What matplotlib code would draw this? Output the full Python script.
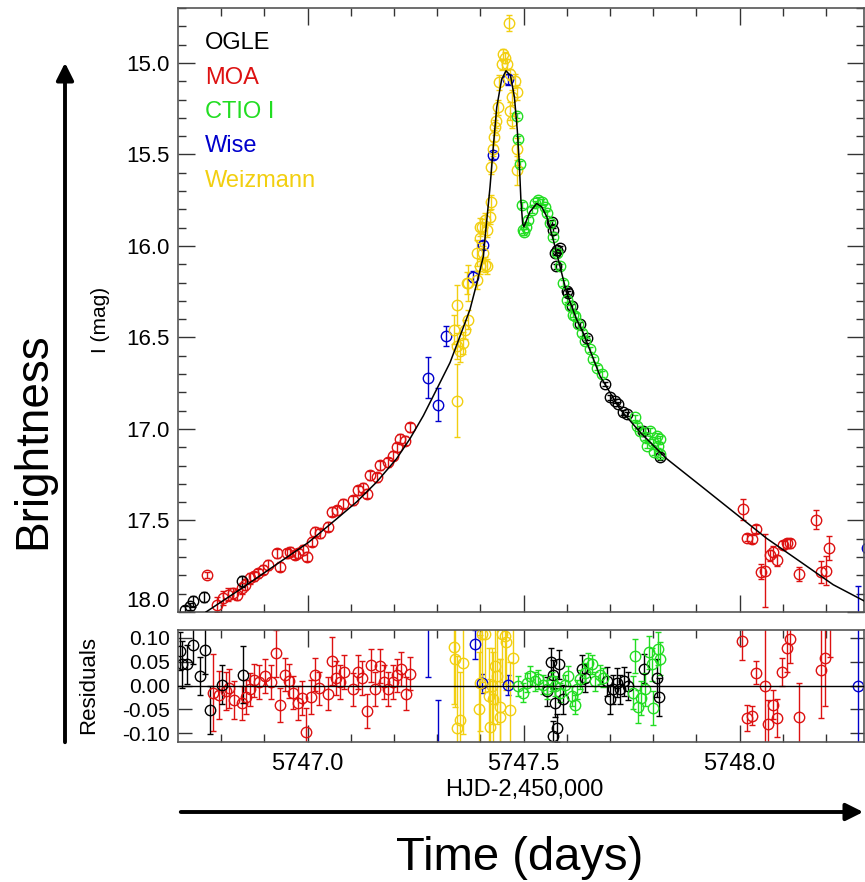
import matplotlib
matplotlib.use("Agg")
import matplotlib.pyplot as plt
from matplotlib.ticker import MultipleLocator, FormatStrFormatter

plt.rcParams['font.family'] = ['Liberation Sans', 'DejaVu Sans']
plt.rcParams['axes.unicode_minus'] = False

# ---- light curve data (HJD-2450000, I mag, error) ----
ogle_t = [5746.716, 5746.728, 5746.736, 5746.761, 5746.848, 5747.565, 5747.569, 5747.573,
          5747.575, 5747.578, 5747.584, 5747.600, 5747.604, 5747.612, 5747.631, 5747.648,
          5747.689, 5747.700, 5747.712, 5747.7195, 5747.731, 5747.739, 5747.777, 5747.816]
ogle_m = [17.987, 17.969, 17.942, 17.918, 17.833, 15.868, 15.913, 16.040,
          16.112, 16.022, 16.012, 16.248, 16.257, 16.330, 16.429, 16.502,
          16.755, 16.828, 16.846, 16.864, 16.909, 16.918, 17.009, 17.154]
ogle_e = [0.02, 0.02, 0.03, 0.025, 0.03, 0.012, 0.012, 0.012,
          0.012, 0.012, 0.012, 0.012, 0.012, 0.012, 0.012, 0.012,
          0.012, 0.012, 0.012, 0.012, 0.012, 0.012, 0.012, 0.015]

moa_t = [5746.767, 5746.790, 5746.805, 5746.817, 5746.828, 5746.836, 5746.848, 5746.855,
         5746.867, 5746.875, 5746.886, 5746.898, 5746.909, 5746.929, 5746.936, 5746.952,
         5746.959, 5746.971, 5746.979, 5746.990, 5746.998, 5747.010, 5747.017, 5747.029,
         5747.048, 5747.056, 5747.068, 5747.083, 5747.106, 5747.118, 5747.128, 5747.137,
         5747.145, 5747.160, 5747.168, 5747.187, 5747.199, 5747.206, 5747.214, 5747.226,
         5747.237,
         5748.009, 5748.017, 5748.028, 5748.038, 5748.050, 5748.059, 5748.071, 5748.078,
         5748.0875, 5748.101, 5748.109, 5748.118, 5748.138, 5748.177, 5748.188, 5748.1995,
         5748.208]
moa_m = [17.797, 17.960, 17.924, 17.906, 17.897, 17.906, 17.870, 17.851,
         17.815, 17.806, 17.788, 17.770, 17.743, 17.679, 17.752, 17.679,
         17.670, 17.688, 17.679, 17.661, 17.697, 17.616, 17.561, 17.571,
         17.534, 17.453, 17.444, 17.408, 17.390, 17.335, 17.322, 17.353,
         17.254, 17.263, 17.199, 17.181, 17.145, 17.100, 17.054, 17.063,
         16.991,
         17.439, 17.594, 17.602, 17.547, 17.779, 17.775, 17.689, 17.670,
         17.716, 17.634, 17.625, 17.625, 17.793, 17.495, 17.783, 17.775,
         17.652]
moa_e = [0.018, 0.04, 0.04, 0.035, 0.03, 0.03, 0.03, 0.03,
         0.03, 0.025, 0.025, 0.025, 0.025, 0.025, 0.025, 0.025,
         0.025, 0.025, 0.025, 0.025, 0.025, 0.025, 0.025, 0.025,
         0.025, 0.025, 0.025, 0.025, 0.025, 0.025, 0.025, 0.025,
         0.025, 0.025, 0.025, 0.025, 0.025, 0.025, 0.025, 0.025,
         0.025,
         0.056, 0.02, 0.02, 0.02, 0.04, 0.2, 0.03, 0.03,
         0.03, 0.02, 0.025, 0.025, 0.04, 0.05, 0.06, 0.08,
         0.065]

ctio_t = [5747.484, 5747.488, 5747.492, 5747.496, 5747.4995, 5747.502, 5747.506, 5747.511,
          5747.519, 5747.527, 5747.534, 5747.542, 5747.550, 5747.555, 5747.561, 5747.569,
          5747.577, 5747.584, 5747.592, 5747.600, 5747.608, 5747.615, 5747.619, 5747.627,
          5747.635, 5747.642, 5747.654, 5747.6615, 5747.669, 5747.681, 5747.758, 5747.762,
          5747.770, 5747.781, 5747.785, 5747.793, 5747.800, 5747.802, 5747.808, 5747.812,
          5747.816, 5747.817]
ctio_m = [15.288, 15.415, 15.551, 15.777, 15.913, 15.925, 15.895, 15.859,
          15.804, 15.768, 15.750, 15.759, 15.786, 15.822, 15.877, 15.949,
          16.040, 16.112, 16.203, 16.293, 16.330, 16.375, 16.384, 16.429,
          16.475, 16.520, 16.565, 16.620, 16.665, 16.700, 16.937, 16.982,
          17.009, 17.045, 17.091, 17.009, 17.072, 17.127, 17.036, 17.091,
          17.054, 17.136]
ctio_e = [0.015] * len(ctio_t)

wise_t = [5747.280, 5747.301, 5747.321, 5747.384, 5747.4055, 5747.429, 5747.465,
          5748.274, 5748.294]
wise_m = [16.719, 16.868, 16.493, 16.167, 15.995, 15.505, 15.089,
          18.06, 17.652]
wise_e = [0.113, 0.09, 0.055, 0.03, 0.02, 0.02, 0.03,
          0.2, 0.05]

weiz_t = [5747.338, 5747.345, 5747.345, 5747.347, 5747.353, 5747.361, 5747.365, 5747.369,
          5747.372, 5747.372, 5747.392, 5747.392, 5747.399, 5747.399, 5747.399, 5747.403,
          5747.407, 5747.411, 5747.411, 5747.415, 5747.415, 5747.422, 5747.425, 5747.425,
          5747.429, 5747.432, 5747.434, 5747.436, 5747.442, 5747.444, 5747.4495, 5747.453,
          5747.457, 5747.461, 5747.467, 5747.469, 5747.469, 5747.473, 5747.473, 5747.480,
          5747.484, 5747.484, 5747.484]
weiz_m = [16.457, 16.321, 16.548, 16.846, 16.574, 16.529, 16.457, 16.203,
          16.402, 16.203, 16.040, 16.185, 15.895, 15.958, 16.112, 15.895,
          16.040, 15.859, 16.103, 15.913, 16.112, 15.841, 15.759, 15.569,
          15.469, 15.406, 15.352, 15.315, 15.243, 15.107, 15.007, 14.953,
          14.971, 15.007, 14.781, 15.062, 15.261, 15.188, 15.315, 15.098,
          15.161, 15.469, 15.587]
weiz_e = [0.08, 0.11, 0.07, 0.2, 0.06, 0.06, 0.05, 0.06,
          0.05, 0.1, 0.07, 0.05, 0.05, 0.04, 0.04, 0.04,
          0.04, 0.04, 0.04, 0.04, 0.04, 0.04, 0.04, 0.04,
          0.04, 0.04, 0.04, 0.04, 0.04, 0.04, 0.03, 0.03,
          0.03, 0.03, 0.045, 0.03, 0.05, 0.04, 0.04, 0.04,
          0.04, 0.06, 0.08]

# fitted model
model_t = [5746.765, 5746.848, 5746.925, 5747.002, 5747.068, 5747.114, 5747.160, 5747.206,
           5747.237, 5747.268, 5747.299, 5747.330, 5747.353, 5747.376, 5747.392, 5747.407,
           5747.411, 5747.4225, 5747.430, 5747.438, 5747.4495, 5747.4595, 5747.470, 5747.479,
           5747.4857, 5747.4903, 5747.494, 5747.498, 5747.501, 5747.515, 5747.5305, 5747.542,
           5747.554, 5747.569, 5747.5845, 5747.600, 5747.623, 5747.638, 5747.677, 5747.723,
           5747.770, 5747.8315, 5747.909, 5747.986, 5748.063, 5748.140, 5748.217, 5748.2905]
model_m = [18.00, 17.87, 17.745, 17.62, 17.49, 17.398, 17.29, 17.163,
           17.054, 16.928, 16.783, 16.637, 16.493, 16.348, 16.203, 16.058,
           15.955, 15.678, 15.46, 15.243, 15.089, 15.043, 15.07, 15.188,
           15.37, 15.55, 15.75, 15.877, 15.895, 15.813, 15.768, 15.786,
           15.841, 15.967, 16.112, 16.257, 16.402, 16.474, 16.710, 16.891,
           17.018, 17.163, 17.308, 17.453, 17.598, 17.724, 17.851, 17.942]

# ---- residuals ----
ogle_rt = [5746.705, 5746.709, 5746.720, 5746.736, 5746.751, 5746.763, 5746.774, 5746.803,
           5746.850, 5747.554, 5747.5637, 5747.569, 5747.569, 5747.573, 5747.577, 5747.583,
           5747.592, 5747.635, 5747.642, 5747.6925, 5747.700, 5747.708, 5747.716, 5747.723,
           5747.733, 5747.743, 5747.779, 5747.808, 5747.814]
ogle_r = [0.072, 0.044, 0.044, 0.084, 0.020, 0.074, -0.052, 0.002,
          0.023, -0.012, 0.049, 0.023, -0.105, -0.036, -0.089, 0.044,
          -0.029, 0.034, 0.016, 0.009, -0.029, -0.008, 0.006, -0.008,
          0.009, -0.001, 0.035, 0.016, -0.024]
ogle_re = [0.04, 0.05, 0.04, 0.04, 0.04, 0.05, 0.05, 0.04,
           0.06, 0.03, 0.03, 0.03, 0.03, 0.03, 0.03, 0.03,
           0.03, 0.03, 0.03, 0.03, 0.03, 0.03, 0.03, 0.03,
           0.03, 0.03, 0.03, 0.04, 0.04]

moa_rt = [5746.782, 5746.794, 5746.811, 5746.819, 5746.830, 5746.848, 5746.858, 5746.867,
          5746.877, 5746.888, 5746.902, 5746.915, 5746.927, 5746.936, 5746.948, 5746.958,
          5746.967, 5746.977, 5746.9865, 5746.9965, 5747.007, 5747.017, 5747.027, 5747.047,
          5747.056, 5747.066, 5747.075, 5747.085, 5747.106, 5747.116, 5747.125, 5747.137,
          5747.146, 5747.156, 5747.168, 5747.177, 5747.187, 5747.197, 5747.206, 5747.216,
          5747.227, 5747.237,
          5748.0065, 5748.017, 5748.028, 5748.038, 5748.059, 5748.067, 5748.078, 5748.0875,
          5748.098, 5748.109, 5748.117, 5748.138, 5748.188, 5748.199, 5748.2095]
moa_r = [-0.015, -0.019, -0.012, -0.006, -0.030, -0.036, -0.024, -0.008,
         0.011, 0.007, 0.020, 0.007, 0.067, -0.041, 0.023, 0.009,
         -0.015, -0.036, -0.026, -0.098, -0.024, 0.023, -0.006, -0.017,
         0.051, 0.016, 0.007, 0.028, -0.008, 0.028, 0.016, -0.053,
         0.042, -0.007, 0.041, 0.007, -0.007, 0.007, 0.021, 0.035,
         -0.017, 0.025,
         0.093, -0.068, -0.063, 0.027, 0.0, -0.080, -0.040, -0.068,
         0.028, 0.079, 0.097, -0.065, 0.032, 0.058, 0.20]
moa_re = [0.08, 0.05, 0.04, 0.04, 0.04, 0.035, 0.035, 0.035,
          0.035, 0.035, 0.035, 0.035, 0.05, 0.035, 0.035, 0.035,
          0.035, 0.035, 0.035, 0.05, 0.035, 0.035, 0.035, 0.035,
          0.05, 0.035, 0.035, 0.035, 0.035, 0.035, 0.035, 0.035,
          0.035, 0.035, 0.035, 0.035, 0.035, 0.035, 0.035, 0.035,
          0.035, 0.035,
          0.04, 0.027, 0.02, 0.024, 0.25, 0.05, 0.03, 0.04,
          0.03, 0.05, 0.05, 0.07, 0.1, 0.1, 0.14]

ctio_rt = [5747.488, 5747.4995, 5747.507, 5747.515, 5747.527, 5747.534, 5747.546, 5747.554,
           5747.565, 5747.573, 5747.584, 5747.596, 5747.604, 5747.612, 5747.619, 5747.623,
           5747.631, 5747.642, 5747.650, 5747.658, 5747.666, 5747.677, 5747.685, 5747.754,
           5747.758, 5747.766, 5747.773, 5747.781, 5747.791, 5747.797, 5747.800, 5747.812,
           5747.816]
ctio_r = [-0.001, -0.015, 0.006, 0.020, 0.009, 0.013, 0.002, -0.008,
          0.009, -0.001, -0.015, 0.002, 0.020, -0.022, -0.040, -0.008,
          0.013, 0.027, 0.048, 0.044, 0.009, 0.023, 0.016, -0.015,
          0.062, -0.044, -0.026, -0.008, 0.069, 0.044, -0.047, 0.077,
          0.056]
ctio_re = [0.02] * 23 + [0.035] * 10

wise_rt = [5747.280, 5747.301, 5747.388, 5747.403, 5747.465, 5748.274]
wise_r = [0.135, -0.16, 0.086, 0.005, 0.001, 0.0]
wise_re = [0.118, 0.13, 0.03, 0.02, 0.02, 0.3]

weiz_rt = [5747.338, 5747.341, 5747.345, 5747.353, 5747.361, 5747.398, 5747.399, 5747.403,
           5747.411, 5747.419, 5747.422, 5747.426, 5747.430, 5747.434, 5747.438, 5747.446,
           5747.446, 5747.4495, 5747.457, 5747.4595, 5747.469, 5747.476]
weiz_r = [0.081, 0.055, -0.089, -0.072, 0.048, -0.050, 0.006, 0.107,
          0.107, -0.022, -0.086, -0.001, -0.029, 0.041, 0.020, -0.065,
          -0.044, 0.107, 0.104, 0.090, -0.051, 0.058]
weiz_re = [0.12, 0.1, 0.15, 0.1, 0.15, 0.12, 0.1, 0.1,
           0.12, 0.1, 0.1, 0.08, 0.1, 0.08, 0.1, 0.12,
           0.1, 0.1, 0.1, 0.1, 0.1, 0.06]

mag_ticks = [15.0, 15.5, 16.0, 16.5, 17.0, 17.5, 18.0]

names = ['OGLE', 'MOA', 'CTIO I', 'Wise', 'Weizmann']
colors = ['black', '#dd1111', '#22dd22', '#0000cc', '#f2cf10']

main_sets = [(ogle_t, ogle_m, ogle_e), (moa_t, moa_m, moa_e), (ctio_t, ctio_m, ctio_e),
             (wise_t, wise_m, wise_e), (weiz_t, weiz_m, weiz_e)]
res_sets = [(ogle_rt, ogle_r, ogle_re), (moa_rt, moa_r, moa_re), (ctio_rt, ctio_r, ctio_re),
            (wise_rt, wise_r, wise_re), (weiz_rt, weiz_r, weiz_re)]

W, H = 865, 882
fig = plt.figure(figsize=(W / 100, H / 100), dpi=100)
ax = fig.add_axes([178 / W, 1 - 612 / H, 686 / W, 604 / H])
axr = fig.add_axes([178 / W, 1 - 742 / H, 686 / W, 112 / H])

order = [1, 0, 3, 4, 2]
for i in order:
    t, m, e = main_sets[i]
    ax.errorbar(t, m, yerr=e, fmt='o', mfc='none', mec=colors[i], ecolor=colors[i],
                ms=7.5, mew=1.0, elinewidth=1.0, capsize=2.5, capthick=1.0)
    t, r, e = res_sets[i]
    axr.errorbar(t, r, yerr=e, fmt='o', mfc='none', mec=colors[i], ecolor=colors[i],
                 ms=7.5, mew=1.0, elinewidth=1.0, capsize=2.5, capthick=1.0)

ax.plot(model_t, model_m, color='black', lw=1.1, zorder=5)
axr.axhline(0.0, color='black', lw=1.0, zorder=5)

xlo, xhi = 5746.7002, 5748.2882
ax.set_xlim(xlo, xhi)
axr.set_xlim(xlo, xhi)
ax.set_ylim(18.0, 14.70)
axr.set_ylim(-0.118, 0.116)

for a in (ax, axr):
    a.xaxis.set_major_locator(MultipleLocator(0.5))
    a.xaxis.set_minor_locator(MultipleLocator(0.1))
    a.tick_params(which='both', direction='in', top=True, right=True, colors='#333333',
                  labelcolor='black')
    a.tick_params(which='major', length=12, width=1.0)
    a.tick_params(which='minor', length=6, width=1.0)
    for s in a.spines.values():
        s.set_color('#555555')
        s.set_linewidth(1.2)

ax.set_yticks(mag_ticks, labels=['%.1f' % v for v in mag_ticks])
ax.yaxis.set_minor_locator(MultipleLocator(0.1))
ax.tick_params(axis='y', labelsize=16, pad=6)
ax.tick_params(axis='x', labelbottom=False)
ax.get_yticklabels()[-1].set_verticalalignment('bottom')

axr.yaxis.set_major_locator(MultipleLocator(0.05))
axr.yaxis.set_minor_locator(MultipleLocator(0.05))
axr.yaxis.set_major_formatter(FormatStrFormatter('%.2f'))
axr.xaxis.set_major_formatter(FormatStrFormatter('%.1f'))
axr.tick_params(axis='y', which='major', length=10, labelsize=15, pad=6)
axr.tick_params(axis='x', labelsize=17, pad=8)

# legend as coloured text
for k, (nm, c) in enumerate(zip(names, colors)):
    fig.text(205 / W, 1 - (43 + 34.5 * k) / H, nm, color=c, fontsize=17, va='center', ha='left')

fig.text(100 / W, 1 - 320 / H, 'I (mag)', rotation=90, fontsize=15, ha='center', va='center',
         fontstretch='condensed')
fig.text(89 / W, 1 - 685 / H, 'Residuals', rotation=90, fontsize=16, ha='center', va='center')
fig.text(524 / W, 1 - 790 / H, 'HJD-2,450,000', fontsize=17, ha='center', va='center')

fig.text(520 / W, 1 - 858 / H, 'Time (days)', fontsize=34, ha='center', va='center')
fig.text(33 / W, 1 - 441 / H, 'Brightness', fontsize=33, rotation=90, ha='center', va='center')

# big arrows
fig.add_artist(matplotlib.patches.FancyArrowPatch((178 / W, 1 - 812 / H), (866 / W, 1 - 812 / H),
               transform=fig.transFigure, arrowstyle='-|>', mutation_scale=26, lw=2.8,
               color='black'))
fig.add_artist(matplotlib.patches.FancyArrowPatch((65 / W, 1 - 745 / H), (65 / W, 1 - 60 / H),
               transform=fig.transFigure, arrowstyle='-|>', mutation_scale=26, lw=2.8,
               color='black'))

fig.savefig('out.png', dpi=100)
